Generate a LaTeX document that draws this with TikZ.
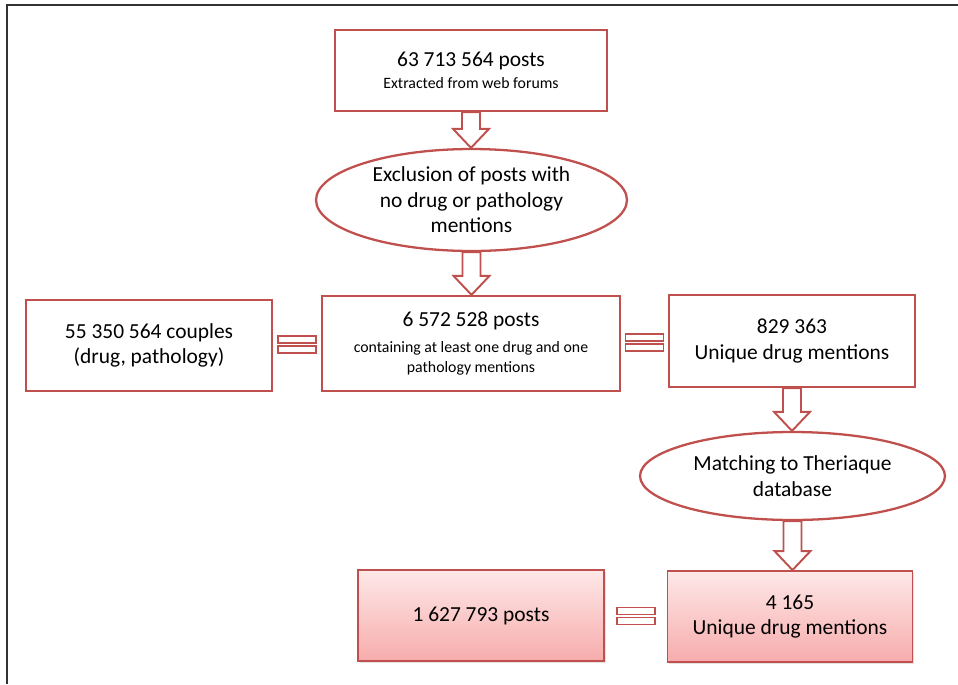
\documentclass[tikz,border=0pt]{standalone}
\usepackage{fontspec}
\setmainfont{Carlito}
\usepackage{tikz}
\usetikzlibrary{shadows}
\usetikzlibrary{shapes.geometric}
\usetikzlibrary{calc}

\definecolor{boxred}{RGB}{192,80,77}
\definecolor{boxtop}{RGB}{254,232,232}
\definecolor{boxbottom}{RGB}{247,172,172}
\definecolor{framegray}{RGB}{50,50,50}

\newcommand{\bigtext}{\fontsize{12.2}{14.5}\selectfont}
\newcommand{\smalltext}{\fontsize{9}{11.3}\selectfont}

% hollow arrow from the bottom of one node to the top of the next
\newcommand{\flowarrow}[2]{%
    \draw[blockarrow] let \p1=(#1.south), \p2=(#2.north) in
        (\x1-0.18cm,\y1) -- (\x1+0.18cm,\y1) -- (\x1+0.18cm,\y2+0.38cm)
        -- (\x1+0.36cm,\y2+0.38cm) -- (\x1,\y2) -- (\x1-0.36cm,\y2+0.38cm)
        -- (\x1-0.18cm,\y2+0.38cm) -- cycle;}

% two flat bars between two nodes side by side
\newcommand{\equalbars}[2]{%
    \coordinate (#1-#2) at ($(#1.east)!0.5!(#2.west)$);
    \draw[blockarrow] ($(#1-#2)+(-0.38cm,0.03cm)$) rectangle ($(#1-#2)+(0.38cm,0.17cm)$);
    \draw[blockarrow] ($(#1-#2)+(-0.38cm,-0.03cm)$) rectangle ($(#1-#2)+(0.38cm,-0.17cm)$);}

\begin{document}
\begin{tikzpicture}[x=0.02cm, y=-0.02cm,
    every node/.style={font=\bigtext, align=center, inner sep=0pt, text=black},
    stepbox/.style={draw=boxred, line width=1.3pt, fill=white, rectangle},
    resultbox/.style={draw=boxred, line width=1.1pt, rectangle,
        top color=boxtop, bottom color=boxbottom,
        drop shadow={shadow xshift=1pt, shadow yshift=-1pt, opacity=0.22}},
    filterellipse/.style={draw=boxred, line width=1.3pt, fill=white, ellipse},
    blockarrow/.style={draw=boxred, line width=1.1pt, fill=white}]

    \useasboundingbox (0,0) rectangle (958,684);

    \draw[framegray, line width=0.9pt] (958,5) -- (7,5) -- (7,684);

    \node[stepbox,
        minimum width=5.44cm,
        minimum height=1.62cm
        ] (posts) at (471,70.5) {63 713 564 posts\\[-2pt]{\smalltext Extracted from web forums}};

    \node[filterellipse,
        minimum width=6.22cm,
        minimum height=2.04cm
        ] (exclusion) at (471.5,200) {Exclusion of posts with\\no drug or pathology\\mentions};

    \node[stepbox,
        minimum width=5.96cm,
        minimum height=1.9cm
        ] (filtered) at (471,343.5) {6 572 528 posts\\{\smalltext containing at least one drug and one}\\[-3pt]{\smalltext pathology mentions}};

    \node[stepbox,
        minimum width=4.92cm,
        minimum height=1.82cm
        ] (couples) at (149,345.5) {55 350 564 couples\\(drug, pathology)};

    \node[stepbox,
        minimum width=4.92cm,
        minimum height=1.84cm
        ] (drugs) at (792,341) {829 363\\Unique drug mentions};

    \node[filterellipse,
        minimum width=6.1cm,
        minimum height=1.76cm
        ] (matching) at (792.5,476) {Matching to Theriaque\\database};

    \node[resultbox,
        minimum width=4.92cm,
        minimum height=1.82cm
        ] (matched) at (481,615.5) {1 627 793 posts};

    \node[resultbox,
        minimum width=4.9cm,
        minimum height=1.82cm
        ] (unique) at (790,616.5) {4 165\\Unique drug mentions};

    \flowarrow{posts}{exclusion}
    \flowarrow{exclusion}{filtered}
    \flowarrow{drugs}{matching}
    \flowarrow{matching}{unique}

    \equalbars{couples}{filtered}
    \equalbars{filtered}{drugs}
    \equalbars{matched}{unique}

\end{tikzpicture}
\end{document}
